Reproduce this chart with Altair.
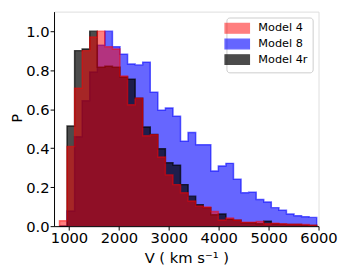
import altair as alt
import pandas as pd

# ---- data ----
models = ["Model 4", "Model 8", "Model 4r"]
colors = ["#ff0000", "#0000ff", "#000000"]
alphas = [0.5, 0.7, 0.8]

bin_start = 809.0
bin_width = 151.6
n_bins = 34

model4 = [0.028, 0.408, 0.707, 0.90, 0.97, 1.0, 0.92, 0.908, 0.77, 0.623,
          0.656, 0.464, 0.469, 0.355, 0.263, 0.213, 0.171, 0.129, 0.104, 0.098,
          0.075, 0.032, 0.042, 0.032, 0.02, 0.02, 0.024, 0.012, 0.015, 0.012,
          0.01, 0.01, 0.008, 0.005]
model8 = [0.0, 0.078, 0.459, 0.643, 0.79, 0.928, 1.0, 0.92, 0.882, 0.832,
          0.827, 0.84, 0.687, 0.595, 0.606, 0.564, 0.435, 0.48, 0.417, 0.417,
          0.283, 0.308, 0.322, 0.241, 0.171, 0.174, 0.137, 0.124, 0.095, 0.082,
          0.062, 0.053, 0.048, 0.045]
model4r = [0.0, 0.514, 0.90, 0.908, 1.0, 0.815, 0.82, 0.815, 0.765, 0.754,
           0.656, 0.509, 0.47, 0.397, 0.325, 0.313, 0.213, 0.154, 0.11, 0.095,
           0.058, 0.062, 0.035, 0.03, 0.018, 0.018, 0.012, 0.025, 0.012, 0.01,
           0.008, 0.008, 0.005, 0.004]

x_ticks = [1000, 2000, 3000, 4000, 5000, 6000]
y_ticks = [0.0, 0.2, 0.4, 0.6, 0.8, 1.0]

series = {"Model 4": model4, "Model 8": model8, "Model 4r": model4r}
edges = [bin_start + bin_width * i for i in range(n_bins + 1)]

area_rows, line_rows = [], []
for m, vals in series.items():
    for i, v in enumerate(vals):
        area_rows.append({"model": m, "v": edges[i], "p": v})
    area_rows.append({"model": m, "v": edges[-1], "p": vals[-1]})
    pts = [(edges[0], 0.0)] + [(edges[i], vals[i]) for i in range(n_bins)] + [(edges[-1], 0.0)]
    for k, (x, y) in enumerate(pts):
        line_rows.append({"model": m, "v": x, "p": y, "idx": k})

area_df = pd.DataFrame(area_rows)
line_df = pd.DataFrame(line_rows)

FONT = "DejaVu Sans"

x_enc = alt.X("v:Q", scale=alt.Scale(domain=[700, 6000], nice=False, zero=False),
              axis=alt.Axis(values=x_ticks, format="d", title="V ( km s\u207b\u00b9 )",
                            grid=False, tickSize=4, labelPadding=1, labelFontSize=15,
                            labelFont=FONT, labelColor="black", tickColor="black",
                            domainColor="black", titleFont=FONT, titleFontSize=15,
                            titleFontWeight="normal", titleColor="black",
                            titleY=37, titleBaseline="alphabetic", zindex=1,
                            labelFlush=False))
y_enc = alt.Y("p:Q", scale=alt.Scale(domain=[0, 1.1], nice=False),
              axis=alt.Axis(values=y_ticks, format=".1f", title="P",
                            grid=False, tickSize=4, labelPadding=1, labelFontSize=15,
                            labelFont=FONT, labelColor="black", tickColor="black",
                            domainColor="black", titleFont=FONT, titleFontSize=15,
                            titleFontWeight="normal", titleColor="black",
                            titleX=-33, titleY=108.5, titleAngle=270,
                            titleBaseline="alphabetic", titleAlign="center", zindex=1,
                            labelFlush=False))

legend = alt.Legend(
    title=None, orient="top-right", offset=6, padding=5, rowPadding=0,
    fillColor="white", strokeColor="#cccccc", cornerRadius=3,
    symbolType="M-2.5,-1H2.5V1H-2.5Z", symbolSize=100, symbolStrokeWidth=1.2,
    labelFont=FONT, labelFontSize=11.5, labelColor="black", labelOffset=15.5,
)
color_enc = alt.Color("model:N", scale=alt.Scale(domain=models, range=colors), legend=legend)
opacity_enc = alt.Opacity("model:N", scale=alt.Scale(domain=models, range=alphas), legend=legend)

layers = []
for m in ["Model 8", "Model 4r", "Model 4"]:
    a = alt.Chart(area_df).transform_filter(alt.datum.model == m).mark_area(
        interpolate="step-after").encode(x=x_enc, y=y_enc, color=color_enc, opacity=opacity_enc)
    l = alt.Chart(line_df).transform_filter(alt.datum.model == m).mark_line(
        interpolate="step-after", strokeWidth=1.5).encode(
        x=x_enc, y=y_enc, color=color_enc, opacity=opacity_enc, order="idx:Q")
    layers += [a, l]

chart = alt.layer(*layers).properties(
    width=270, height=219,
    autosize=alt.AutoSizeParams(type="none"),
    padding={"left": 47, "top": 1, "right": 26, "bottom": 40},
).configure_view(stroke="black", strokeWidth=1).configure(background="white")

chart.save("out.html", embed_options={"renderer": "svg", "actions": False})
